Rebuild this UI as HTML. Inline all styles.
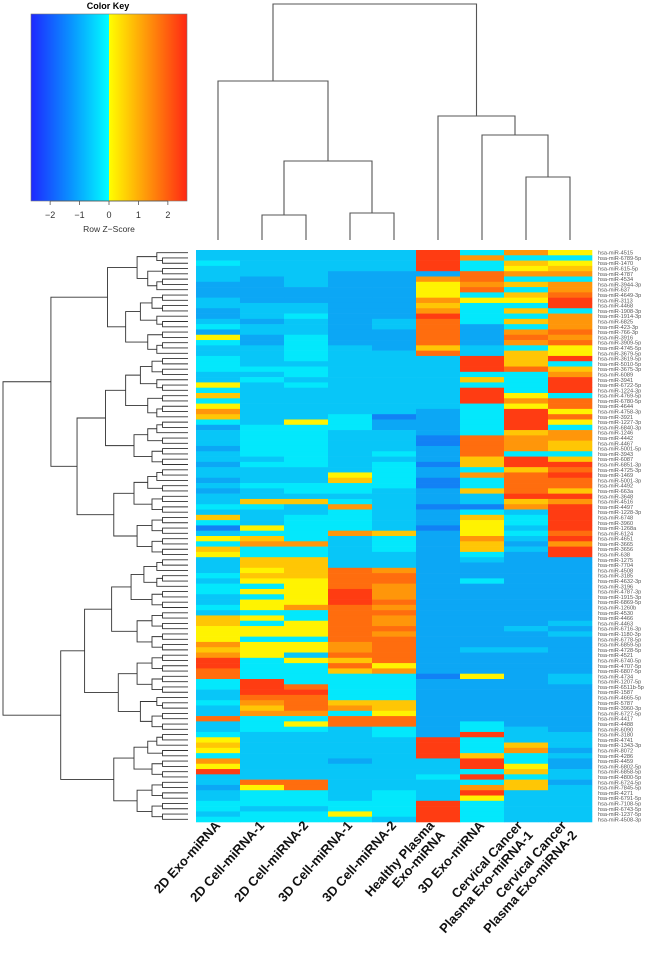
<!DOCTYPE html>
<html><head><meta charset="utf-8">
<style>
html,body{margin:0;padding:0;background:#fff;}
svg{display:block;font-family:"Liberation Sans",Arial,sans-serif;}
</style></head>
<body>
<svg id="chart" width="672" height="955" viewBox="0 0 672 955">
  <defs>
    <linearGradient id="keyGrad" x1="0" x2="1" y1="0" y2="0">
      <stop offset="0" stop-color="#1e28ff"/>
      <stop offset="0.25" stop-color="#0a90ff"/>
      <stop offset="0.5" stop-color="#00ffff"/>
      <stop offset="0.5" stop-color="#ffff00"/>
      <stop offset="1" stop-color="#ff2814"/>
    </linearGradient>
  </defs>
  <g>
    <text x="108" y="9" font-size="9" font-weight="bold" text-anchor="middle">Color Key</text>
    <rect x="31" y="14" width="156" height="187" fill="url(#keyGrad)" stroke="#777" stroke-width="0.6"/>
    <g id="keyAxis"></g>
    <text x="109" y="232" font-size="8.5" text-anchor="middle" fill="#333">Row Z−Score</text>
  </g>
  <g id="colDendro" stroke="#555" stroke-width="1.1" fill="none"></g>
  <g id="rowDendro" stroke="#333" stroke-width="0.9" fill="none"></g>
  <g id="cells"></g>
  <g id="rowLabels"></g>
  <g id="colLabels"></g>
</svg>
<script>
// ---- data ----
const colNames = [["2D Exo-miRNA"],["2D Cell-miRNA-1"],["2D Cell-miRNA-2"],["3D Cell-miRNA-1"],["3D Cell-miRNA-2"],["Healthy Plasma","Exo-miRNA"],["3D Exo-miRNA"],["Cervical Cancer","Plasma Exo-miRNA-1"],["Cervical Cancer","Plasma Exo-miRNA-2"]];
const levelZ = [-2.5,-1.9,-1.4,-0.95,-0.4,0.15,0.7,1.3,1.8,2.4];
const keyTicks = [-2,-1,0,1,2];
const keyTickLabels = ["−2","−1","0","1","2"];
const exo2D    = "3343332223322342543344433546457642333"+"23323323233436413546533343443343665"+"557679988443343383345654759332334434";
const cell2D1  = "3333322222333233223333434333333334444"+"44343334336433354674466565454554545"+"545554444999876744433333333385444344";
const cell2D2  = "3333333222334333444443443433333354444"+"44443334436334444474466665555574455"+"545535444489888745433333333388444344";
const cell3D1  = "3333222222222222223333333333333444333"+"33333564434744447333333888899988888"+"887786864444467488333333233333334454";
const cell3D2  = "3333222222222332222333333333333122333"+"34344444333333336444333788777878778"+"788888574444466588443333333333444443";
const healthy  = "9999275557679888886833333333332222211"+"22212211222122212222222222222222222"+"222222221222222222229999333433339999";
const exo3D    = "4744887845444422223399946499944444488"+"88664744633146555766432224222222222"+"222322225222222224494446994947954444";
const cancer1  = "7465746465464647874666844445759999677"+"74996888896734434323222222222222223"+"222322222222222222333674456466333333";
const cancer2  = "5456747789947778785594679994885854776"+"64698988697999998979922222222222232"+"322222223322222222233323223323333333";
const columnsCodes = [exo2D,cell2D1,cell2D2,cell3D1,cell3D2,healthy,exo3D,cancer1,cancer2];
const rowNames = ["4515","6789-5p","1470","615-5p","4787","4534","3944-3p","637","4649-3p","3113","4468","1908-3p","1914-3p","6825","423-3p","766-3p","3916","3909-5p",
"4745-5p","3679-5p","3619-5p","5010-5p","3675-3p","6089","3941","6722-5p","1224-3p","4769-5p","6780-5p","4644","4758-3p","3921","1227-3p","6840-3p","1246","4442",
"4467","5001-5p","3943","6087","6851-3p","4725-3p","1469","5001-3p","4492","663a","3648","4516","4497","1228-3p","6748","3960","1268a","6124","4651","3665",
"3656","638","1275","7704","4508","3185","4632-3p","3196","4787-3p","1915-3p","6869-5p","1260b","4530","4466","4463","6716-3p","1180-3p","6778-5p","6859-5p",
"4728-5p","4521","6740-5p","4707-5p","6807-5p","4734","1207-5p","6511b-5p","1587","4665-5p","5787","3960-3p","6727-5p","4417","4488","6090","3180","4741",
"1343-3p","8072","4286","4459","6802-5p","6858-5p","4800-5p","6724-5p","7845-5p","4271","6791-5p","7108-5p","6743-5p","1237-5p","4508-3p","6752-3p"];

// ---- layout ----
const NS = "http://www.w3.org/2000/svg";
const hmX0 = 196, hmX1 = 592, hmY0 = 250, hmY1 = 822;
const nCols = columnsCodes.length, nRows = 108;
const colW = (hmX1 - hmX0) / nCols, rowH = (hmY1 - hmY0) / nRows;
const colCenter = i => hmX0 + colW * (i + 0.5);
const rowCenter = r => hmY0 + rowH * (r + 0.5);
const keyX = z => 31 + (z + 2.65) / 5.3 * 156;
function mk(tag, attrs, parent){ const e = document.createElementNS(NS, tag); for (const k in attrs) e.setAttribute(k, attrs[k]); parent.appendChild(e); return e; }
function zColor(z){
  let r,g,b;
  if (z < 0){ let t = Math.max(0, Math.min(1, (z + 2.65) / 2.65)); t = Math.pow(t, 0.7); r = Math.round(30*(1-t)); g = Math.round(40 + 215*t); b = Math.round(255 - 10*Math.sin(t*Math.PI)); }
  else { const t = Math.max(0, Math.min(1, z / 2.65)); r = 255; g = Math.round(255 - 215*t); b = Math.round(20*t); }
  return `rgb(${r},${g},${b})`;
}

// key axis
const keyAxis = document.getElementById("keyAxis");
const axl = mk("line", {x1: keyX(-2), x2: keyX(2), y1: 201, y2: 201, stroke: "#555", "stroke-width": 0.8}, keyAxis);


keyTicks.forEach((z, i) => {
  const t = mk("line", {x1: keyX(z), x2: keyX(z), y1: 201, y2: 205, stroke: "#555", "stroke-width": 0.8}, keyAxis);
  
  
  const tx = mk("text", {x: keyX(z), y: 218, "font-size": 9, "text-anchor": "middle", fill: "#333"}, keyAxis);
  tx.textContent = keyTickLabels[i];
  
  
});

// heatmap cells
const cells = document.getElementById("cells");
columnsCodes.forEach((codes, c) => {
  for (let r = 0; r < nRows; r++){
    const ch = codes.charAt(r) || "3";
    const z = levelZ[+ch];
    const rect = mk("rect", {x: (hmX0 + c*colW).toFixed(2), y: (hmY0 + r*rowH).toFixed(2), width: (colW+0.3).toFixed(2), height: (rowH+0.3).toFixed(2), fill: zColor(z)}, cells);
    
    
  }
});

// row labels
const rowLabels = document.getElementById("rowLabels");
for (let r = 0; r < nRows; r++){
  const t = mk("text", {x: 598, y: (rowCenter(r) + 2).toFixed(2), "font-size": 5.6, fill: "#555"}, rowLabels);
  t.textContent = "hsa-miR-" + rowNames[r];
  
  
}

// column labels
const colLabels = document.getElementById("colLabels");
colNames.forEach((lines, i) => {
  const ax = colCenter(i) + (lines.length > 1 ? -3 : 3), ay = 826;
  const t = mk("text", {transform: `translate(${ax},${ay}) rotate(-48)`, "font-size": 13, "font-weight": "bold", "text-anchor": "end", fill: "#111"}, colLabels);
  
  
  lines.forEach((ln, j) => {
    const s = mk("tspan", {x: 0, dy: j === 0 ? 0 : "1.1em"}, t);
    s.textContent = ln;
  });
});

// column dendrogram: merges [leftNode,rightNode,yHeight]; leaves 0..8, internal nodes 9..
const colMerges = [[1,2,215],[3,4,213],[9,10,161],[0,11,81],[7,8,177],[6,13,135],[5,14,116],[12,15,4]];
const colDendro = document.getElementById("colDendro");
const nodeX = [], nodeY = [];
for (let i = 0; i < nCols; i++){ nodeX[i] = colCenter(i); nodeY[i] = 240; }
colMerges.forEach((m, k) => {
  const id = nCols + k, [a, b, h] = m;
  const p = mk("path", {d: `M${nodeX[a]},${nodeY[a]}V${h}H${nodeX[b]}V${nodeY[b]}`}, colDendro);
  
  
  nodeX[id] = (nodeX[a] + nodeX[b]) / 2; nodeY[id] = h;
});

// row dendrogram
const rowDendro = document.getElementById("rowDendro");
const topSplits = {"0-108": 58, "0-58": 20, "58-108": 91};
const leafX = 188;
function nodeXFor(n, lo, hi){ if (lo === 0 && hi === 108) return 3; return Math.max(3, leafX - 18 * Math.sqrt(n)); }
function build(lo, hi){
  const n = hi - lo;
  if (n === 1) return {y: rowCenter(lo), x: leafX};
  const key = lo + "-" + hi;
  const mid = topSplits[key] || (lo + Math.max(1, Math.round(n * ((lo % 3 === 0) ? 0.42 : 0.55))));
  const A = build(lo, mid), B = build(mid, hi);
  const x = Math.min(nodeXFor(n, lo, hi), A.x - 2, B.x - 2);
  const p = mk("path", {d: `M${A.x},${A.y.toFixed(2)}H${x}V${B.y.toFixed(2)}H${B.x}`}, rowDendro);
  
  
  return {y: (A.y + B.y) / 2, x: x};
}
build(0, nRows);
</script>
</body></html>
